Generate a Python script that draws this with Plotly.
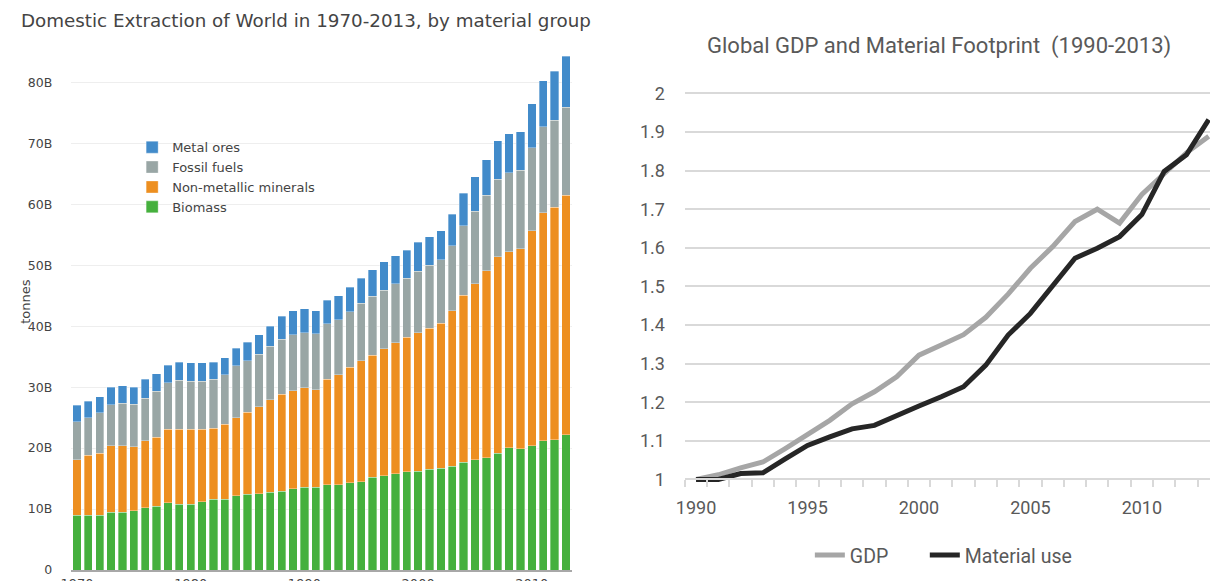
import plotly.graph_objects as go

# ---------------- Left chart data (billion tonnes) ----------------
years = list(range(1970, 2014))
biomass = [9.0, 9.0, 9.0, 9.5, 9.5, 9.7, 10.2, 10.5, 11.0, 10.8,
           10.8, 11.2, 11.6, 11.6, 12.2, 12.4, 12.5, 12.8, 12.9, 13.3,
           13.6, 13.6, 14.0, 14.0, 14.3, 14.5, 15.2, 15.5, 15.8, 16.1,
           16.2, 16.5, 16.7, 17.0, 17.7, 18.1, 18.4, 19.2, 20.1, 19.9,
           20.4, 21.2, 21.4, 22.2]
non_metallic = [9.1, 9.8, 10.2, 10.9, 10.9, 10.5, 11.0, 11.3, 12.1, 12.3,
                12.3, 11.9, 11.7, 12.3, 12.8, 13.5, 14.3, 15.1, 15.9, 16.1,
                16.3, 16.0, 17.3, 18.0, 19.0, 19.8, 20.0, 20.8, 21.5, 22.1,
                22.7, 23.2, 23.8, 25.5, 27.4, 28.9, 30.7, 32.2, 32.1, 32.8,
                35.3, 37.4, 38.1, 39.3]
fossil = [6.2, 6.2, 6.6, 6.7, 7.0, 7.0, 7.0, 7.5, 7.6, 8.0,
          7.9, 7.9, 8.0, 8.1, 8.5, 8.4, 8.6, 8.8, 9.1, 9.2,
          9.0, 9.2, 9.1, 9.1, 9.1, 9.5, 9.7, 9.6, 9.7, 9.7,
          10.1, 10.3, 10.4, 10.7, 11.4, 11.9, 12.4, 12.7, 13.0, 12.9,
          13.6, 14.1, 14.3, 14.4]
metal = [2.7, 2.7, 2.6, 2.9, 2.8, 2.8, 3.1, 2.9, 2.9, 3.0,
         3.0, 3.0, 2.8, 2.8, 2.9, 3.1, 3.2, 3.3, 3.7, 3.9,
         4.0, 3.7, 3.9, 3.9, 4.0, 4.1, 4.4, 4.7, 4.6, 4.6,
         4.8, 4.7, 4.8, 5.2, 5.3, 5.6, 5.8, 6.3, 6.4, 6.3,
         7.2, 7.6, 8.0, 8.4]
left_tickvals = [0, 10e9, 20e9, 30e9, 40e9, 50e9, 60e9, 70e9, 80e9]
left_ticktext = ["0", "10B", "20B", "30B", "40B", "50B", "60B", "70B", "80B"]
left_xticks = [1970, 1980, 1990, 2000, 2010]

# ---------------- Right chart data (index, 1990 = 1) ----------------
years2 = list(range(1990, 2014))
gdp = [1.0, 1.012, 1.03, 1.045, 1.08, 1.118, 1.153, 1.196, 1.227, 1.266,
       1.322, 1.348, 1.375, 1.42, 1.48, 1.547, 1.603, 1.668, 1.70, 1.664,
       1.738, 1.792, 1.846, 1.889]
material = [1.0, 1.0, 1.015, 1.017, 1.053, 1.088, 1.11, 1.131, 1.14, 1.166,
            1.19, 1.214, 1.24, 1.296, 1.374, 1.43, 1.504, 1.573, 1.599, 1.629,
            1.686, 1.798, 1.841, 1.932]
right_yticks = [1, 1.1, 1.2, 1.3, 1.4, 1.5, 1.6, 1.7, 1.8, 1.9, 2]
right_yticktext = ["1", "1.1", "1.2", "1.3", "1.4", "1.5", "1.6", "1.7", "1.8", "1.9", "2"]
right_xticks = [1990, 1995, 2000, 2005, 2010]

# figure size and mapping from target screen pixels to paper fractions
W, H = 1232, 596
def fx(t):
    return ((t - 17.8) / 0.9915) / W
def fy(t):
    return 1 - ((t - 10.1) / 0.9807) / H

fig = go.Figure()
bar_line = dict(color="rgba(255,255,255,0.55)", width=0.6)
series = [("Biomass", biomass, "#45b03d"),
          ("Non-metallic minerals", non_metallic, "#ed8f20"),
          ("Fossil fuels", fossil, "#99a6a5"),
          ("Metal ores", metal, "#428bca")]
for name, vals, col in series:
    fig.add_trace(go.Bar(x=years, y=[v * 1e9 for v in vals], name=name,
                         marker=dict(color=col, line=bar_line),
                         xaxis="x", yaxis="y", legend="legend"))

fig.add_trace(go.Scatter(x=years2, y=gdp, name="GDP", mode="lines",
                         line=dict(color="#a6a6a6", width=5),
                         xaxis="x2", yaxis="y2", legend="legend2"))
fig.add_trace(go.Scatter(x=years2, y=material, name="Material use", mode="lines",
                         line=dict(color="#262626", width=5),
                         xaxis="x2", yaxis="y2", legend="legend3"))

left_font = "DejaVu Sans"
right_font = "Roboto"
ytop_px = 567.7 - 88.5 * 6.08
x2_right_px = 1219.5
x2_max = 1989.5 + (x2_right_px - 684) / 22.3
right_legend_font = dict(family=right_font, size=19.5, color="#595959")

fig.update_layout(
    width=W, height=H,
    margin=dict(l=0, r=0, t=0, b=0),
    paper_bgcolor="white", plot_bgcolor="white",
    barmode="stack", bargap=0.27,
    showlegend=True,
    xaxis=dict(domain=[fx(70.1), fx(570.7)], range=[1969.5, 2013.5],
               tickvals=left_xticks, showgrid=False, zeroline=False,
               showline=True, linecolor="#a8a8a8", linewidth=2,
               tickfont=dict(family=left_font, size=13, color="#444"),
               anchor="y"),
    yaxis=dict(domain=[fy(567.7), fy(ytop_px)], range=[0, 88.5e9],
               tickvals=left_tickvals, ticktext=left_ticktext,
               showgrid=True, gridcolor="#eeeeee", gridwidth=1, zeroline=False,
               ticklabelstandoff=18,
               tickfont=dict(family=left_font, size=12.5, color="#444"),
               anchor="x"),
    xaxis2=dict(domain=[fx(684), fx(x2_right_px)], range=[1989.5, x2_max],
                tickvals=right_xticks, ticks="", showgrid=False, zeroline=False,
                showline=True, linecolor="#d9d9d9", linewidth=1.5,
                minor=dict(tick0=1989.5, dtick=1, ticks="outside", ticklen=7,
                           tickcolor="#d9d9d9", tickwidth=1.5, showgrid=False),
                tickfont=dict(family=right_font, size=18, color="#595959"),
                ticklabelstandoff=12,
                anchor="free", position=fy(477.3)),
    yaxis2=dict(domain=[fy(485.0), fy(84.6)], range=[0.98, 2.02],
                showgrid=True, gridcolor="#d9d9d9", gridwidth=1.5,
                zeroline=False, showline=False, ticks="",
                tickvals=right_yticks, ticktext=right_yticktext,
                ticklabelstandoff=19,
                tickfont=dict(family=right_font, size=18, color="#595959"),
                anchor="x2"),
    legend=dict(x=fx(131), y=fy(131), xanchor="left", yanchor="top",
                traceorder="reversed", bgcolor="rgba(0,0,0,0)",
                font=dict(family=left_font, size=13, color="#444")),
    legend2=dict(orientation="h", x=fx(809), y=fy(553), xanchor="left", yanchor="middle",
                 bgcolor="rgba(0,0,0,0)", font=right_legend_font),
    legend3=dict(orientation="h", x=fx(924), y=fy(553), xanchor="left", yanchor="middle",
                 bgcolor="rgba(0,0,0,0)", font=right_legend_font),
    annotations=[
        dict(text="Domestic Extraction of World in 1970-2013, by material group",
             x=0, y=fy(20), xref="paper", yref="paper", xanchor="left", yanchor="middle",
             showarrow=False, font=dict(family=left_font, size=18.3, color="#444")),
        dict(text="tonnes", x=fx(24), y=fy(300), xref="paper", yref="paper",
             xanchor="center", yanchor="middle", textangle=-90, showarrow=False,
             font=dict(family=left_font, size=13, color="#444")),
        dict(text="Global GDP and Material Footprint  (1990-2013)",
             x=fx(938.5), y=fy(45), xref="paper", yref="paper", xanchor="center", yanchor="middle",
             showarrow=False, font=dict(family=right_font, size=22, color="#595959")),
    ],
)

fig.write_html("out.html")
